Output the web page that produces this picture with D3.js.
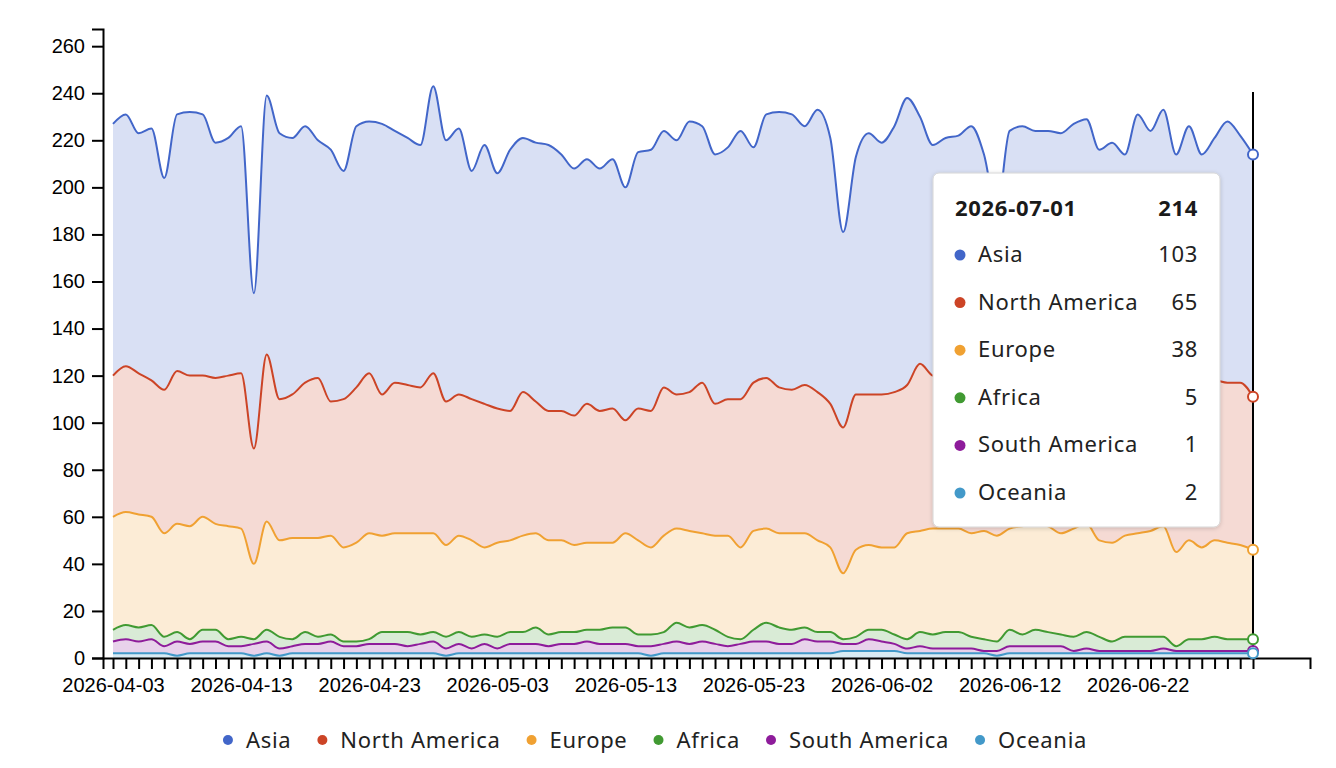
<!DOCTYPE html>
<html lang="en">
<head>
<meta charset="UTF-8">
<title>Daily visitors by region</title>
<script src="https://d3js.org/d3.v7.min.js"></script>
<style>
  body { margin: 0; background: #fff; }
  svg { display: block; }
</style>
</head>
<body>
<svg width="1336" height="768"></svg>
<script>
// regions, top of the stack first (same order as legend and tooltip)
const regions = ["Asia", "North America", "Europe", "Africa", "South America", "Oceania"];
const colors = ["#4266c9", "#cc4426", "#f0a132", "#419a32", "#8e1c9b", "#4399c9"];
const startDate = "2026-04-03";

// daily values, one entry per day from startDate
const asia = [107,107,102,107,90,109,112,111,100,101, 105,66,110,113,109,109,101,107,97,111,
              107,115,107,105,103,122,111,113,97,110, 100,111,108,110,113,109,105,104,103,106,
              99,109,111,109,108,115,109,106,107,114, 100,112,117,117,110,120,113,83,101,111,
              107,113,122,105,98,102,100,108,98,77, 107,111,106,110,107,108,112,103,104,102,
              115,110,115,102,110,100,103,111,105,103];
const northAmerica = [60,62,60,58,61,65,64,60,62,64, 66,49,71,60,61,66,68,57,63,66,
                      68,60,64,63,62,68,61,60,60,61, 57,55,61,56,55,55,55,59,56,57,
                      48,56,58,63,57,59,64,56,58,63, 63,64,62,61,63,63,61,62,66,64,
                      65,66,63,71,65,64,67,65,62,61, 62,59,61,58,63,64,60,63,66,60,
                      63,60,62,67,66,67,68,68,69,65];
const europe = [48,48,48,46,44,46,48,48,45,48, 46,32,46,41,43,40,42,42,40,42,
                45,41,42,42,43,42,39,41,41,37, 40,39,41,40,40,39,37,37,37,36,
                40,40,37,41,40,41,39,40,43,39, 42,40,40,41,40,39,36,28,37,36,
                35,37,45,43,45,44,44,44,46,45, 43,46,45,45,43,46,46,41,42,43,
                44,45,47,40,42,39,41,41,40,38];
const africa = [5,6,6,6,4,4,2,5,5,3, 4,2,5,5,3,5,3,3,2,2,
                2,5,5,6,4,4,5,5,5,4, 5,5,5,7,5,5,5,5,6,7,
                7,5,5,5,8,7,7,6,4,2, 5,8,7,6,5,4,4,2,3,4,
                5,4,4,6,6,7,7,5,5,4, 7,5,7,6,5,6,7,6,4,6,
                6,6,5,2,5,5,6,5,5,5];
const southAmerica = [5,6,5,6,3,6,4,5,5,3, 3,5,5,3,3,4,4,5,3,3,
                      4,4,4,3,4,5,3,4,2,4, 2,4,4,4,3,4,4,5,4,4,
                      4,3,4,4,5,4,5,4,3,4, 5,5,4,4,6,5,5,3,3,5,
                      4,3,2,3,2,2,2,2,1,2, 3,3,3,3,3,1,2,1,1,1,
                      1,1,2,1,1,1,1,1,1,1];
const oceania = [2,2,2,2,2,1,2,2,2,2, 2,1,2,1,2,2,2,2,2,2,
                 2,2,2,2,2,2,1,2,2,2, 2,2,2,2,2,2,2,2,2,2,
                 2,2,1,2,2,2,2,2,2,2, 2,2,2,2,2,2,2,3,3,3,
                 3,3,2,2,2,2,2,2,2,1, 2,2,2,2,2,2,2,2,2,2,
                 2,2,2,2,2,2,2,2,2,2];
const yTicks = [0,20,40,60,80,100,120,140,160,180,200,220,240,260];

const seriesByRegion = {
  "Asia": asia, "North America": northAmerica, "Europe": europe,
  "Africa": africa, "South America": southAmerica, "Oceania": oceania
};
const colorOf = d3.scaleOrdinal().domain(regions).range(colors);

const parseDate = d3.timeParse("%Y-%m-%d");
const fmt = d3.timeFormat("%Y-%m-%d");
const day0 = parseDate(startDate);
const dates = d3.timeDay.range(day0, d3.timeDay.offset(day0, asia.length));

const data = dates.map((d, i) => {
  const row = { date: d };
  regions.forEach(r => row[r] = seriesByRegion[r][i]);
  return row;
});

const svg = d3.select("svg");
const W = 1336;

// plot geometry
const plotLeft = 103, plotRight = 1310, plotTop = 29, plotBottom = 658;

const x = d3.scaleTime().domain(d3.extent(dates)).range([113, 1253]);
// the axis line runs a bit past the data on both sides
const xAxisScale = x.copy().domain([x.invert(plotLeft), x.invert(plotRight)]).range([plotLeft, plotRight]);

const yMax = d3.max(data, d => d3.sum(regions, r => d[r])) * 1.1;
const y = d3.scaleLinear().domain([0, yMax]).range([plotBottom, plotTop]);

// Oceania sits at the bottom of the stack
const stacked = d3.stack().keys(regions.slice().reverse())(data);

const area = d3.area()
  .x(d => x(d.data.date))
  .y0(d => y(d[0]))
  .y1(d => y(d[1]))
  .curve(d3.curveMonotoneX);

const line = d3.line()
  .x(d => x(d.data.date))
  .y(d => y(d[1]))
  .curve(d3.curveMonotoneX);

svg.append("g").selectAll("path")
  .data(stacked)
  .join("path")
  .attr("fill", s => colorOf(s.key))
  .attr("fill-opacity", 0.2)
  .attr("d", area);

svg.append("g").selectAll("path")
  .data(stacked)
  .join("path")
  .attr("fill", "none")
  .attr("stroke", s => colorOf(s.key))
  .attr("stroke-width", 2)
  .attr("d", line);

// axes
const axisFont = "'Liberation Sans', Arial, sans-serif";

const gx = svg.append("g")
  .attr("transform", `translate(0,${plotBottom})`)
  .call(d3.axisBottom(xAxisScale)
    .tickValues(dates)
    .tickFormat((d, i) => i % 10 === 0 ? fmt(d) : "")
    .tickSize(11)
    .tickPadding(9));

const gy = svg.append("g")
  .attr("transform", `translate(${plotLeft},0)`)
  .call(d3.axisLeft(y).tickValues(yTicks).tickSize(11).tickPadding(7));

[gx, gy].forEach(g => {
  g.selectAll("path, line").attr("stroke", "#000").attr("stroke-width", 2);
  g.selectAll("text").attr("fill", "#000").style("font-family", axisFont).style("font-size", "20px");
});

// hover marker on the last day
const last = data[data.length - 1];
const lastIdx = data.length - 1;
svg.append("line")
  .attr("x1", x(last.date)).attr("x2", x(last.date))
  .attr("y1", y(yMax * 0.9)).attr("y2", plotBottom)
  .attr("stroke", "#000").attr("stroke-width", 2);

svg.append("g").selectAll("circle")
  .data(stacked.slice().reverse())
  .join("circle")
  .attr("cx", x(last.date))
  .attr("cy", s => y(s[lastIdx][1]))
  .attr("r", 5)
  .attr("fill", "#fff")
  .attr("stroke", s => colorOf(s.key))
  .attr("stroke-width", 2);

// tooltip box
const uiFont = "'Noto Sans', 'Open Sans', sans-serif";
const defs = svg.append("defs");
const shadow = defs.append("filter").attr("id", "shadow").attr("x", "-10%").attr("y", "-10%").attr("width", "120%").attr("height", "120%");
shadow.append("feDropShadow").attr("dx", 0).attr("dy", 1).attr("stdDeviation", 2).attr("flood-color", "#000").attr("flood-opacity", 0.18);

const tip = svg.append("g").attr("transform", "translate(933,173)");
tip.append("rect")
  .attr("width", 287).attr("height", 354).attr("rx", 6)
  .attr("fill", "#fff").attr("stroke", "#d6d6d6").attr("stroke-width", 1)
  .attr("filter", "url(#shadow)");

const tipText = (g) => g.style("font-family", uiFont).style("font-size", "22px")
  .style("letter-spacing", "0.7px").attr("fill", "#222");

tip.append("text").call(tipText)
  .attr("x", 22).attr("y", 43).style("font-weight", 700).attr("fill", "#1a1a1a")
  .text(fmt(last.date));
tip.append("text").call(tipText)
  .attr("x", 265).attr("y", 43).attr("text-anchor", "end").style("font-weight", 700).attr("fill", "#1a1a1a")
  .text(d3.sum(regions, r => last[r]));

const rows = tip.selectAll("g.row")
  .data(regions)
  .join("g")
  .attr("class", "row")
  .attr("transform", (r, i) => `translate(0,${89 + i * 47.6})`);
rows.append("circle").attr("cx", 27).attr("cy", -7).attr("r", 5.5).attr("fill", r => colorOf(r));
rows.append("text").call(tipText).attr("x", 45).text(r => r);
rows.append("text").call(tipText).attr("x", 265).attr("text-anchor", "end").text(r => last[r]);

// legend, centred under the chart
const legend = svg.append("g").attr("transform", "translate(0,748)");
const items = legend.selectAll("g")
  .data(regions)
  .join("g");
items.append("circle").attr("cx", 5).attr("cy", -8).attr("r", 5).attr("fill", r => colorOf(r));
items.append("text")
  .attr("x", 23)
  .style("font-family", uiFont).style("font-size", "22px").style("letter-spacing", "0.7px")
  .attr("fill", "#222")
  .text(r => r);

let pos = 0;
const offsets = [];
items.each(function () {
  offsets.push(pos);
  pos += 23 + this.querySelector("text").getComputedTextLength() + 26;
});
const start = (W - pos) / 2;
items.attr("transform", (r, i) => `translate(${start + offsets[i]},0)`);
</script>
</body>
</html>
